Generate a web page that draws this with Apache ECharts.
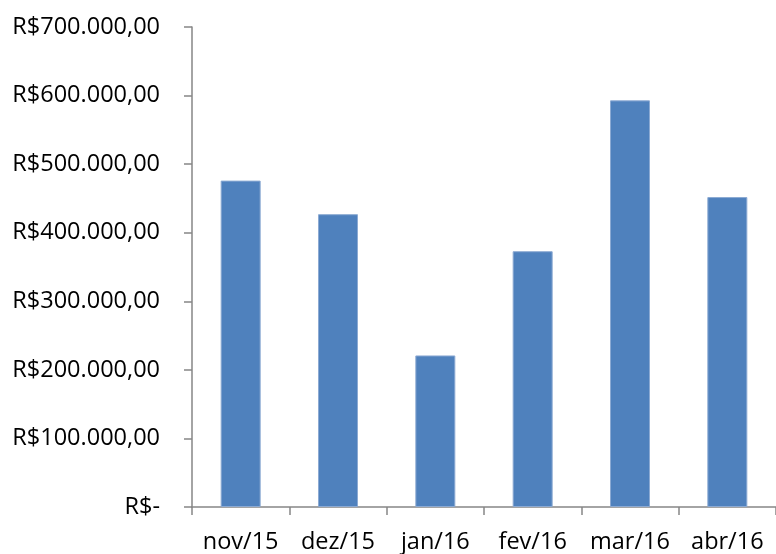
<!DOCTYPE html>
<html>
<head>
<meta charset="utf-8">
<script src="https://cdn.jsdelivr.net/npm/echarts@6/dist/echarts.min.js"></script>
<style>html,body{margin:0;padding:0;background:#fff}#c{width:776px;height:554px}</style>
</head>
<body>
<div id="c"></div>
<script>
const categories = ['nov/15', 'dez/15', 'jan/16', 'fev/16', 'mar/16', 'abr/16'];
const values = [476000, 427000, 221000, 373000, 593000, 452000];

function fmt(v) {
  if (v === 0) return 'R$-';
  const s = Math.round(v).toString().replace(/\B(?=(\d{3})+(?!\d))/g, '.');
  return 'R$' + s + ',00';
}

const chart = echarts.init(document.getElementById('c'));
chart.setOption({
  animation: false,
  textStyle: { fontFamily: 'Open Sans' },
  grid: { left: 192, top: 27, width: 591, height: 480 },
  xAxis: {
    type: 'category',
    data: categories,
    boundaryGap: true,
    axisLine: { lineStyle: { color: '#868686', width: 1.5 } },
    axisTick: { show: true, length: 8, alignWithLabel: false, lineStyle: { color: '#868686', width: 1.5 } },
    axisLabel: { color: '#000', fontSize: 23.5, margin: 23, fontFamily: 'Open Sans', interval: 0 },
    splitLine: { show: false }
  },
  yAxis: {
    type: 'value',
    min: 0, max: 700000, interval: 100000,
    axisLine: { show: true, lineStyle: { color: '#868686', width: 1.5 } },
    axisTick: { show: true, length: 8, lineStyle: { color: '#868686', width: 1.5 } },
    axisLabel: { color: '#000', fontSize: 23.5, margin: 32, fontFamily: 'Open Sans', formatter: fmt },
    splitLine: { show: false }
  },
  series: [{
    type: 'bar',
    data: values,
    barWidth: 40,
    itemStyle: { color: '#4F81BD', borderColor: '#8CAAD3', borderWidth: 1 }
  }]
});
</script>
</body>
</html>
